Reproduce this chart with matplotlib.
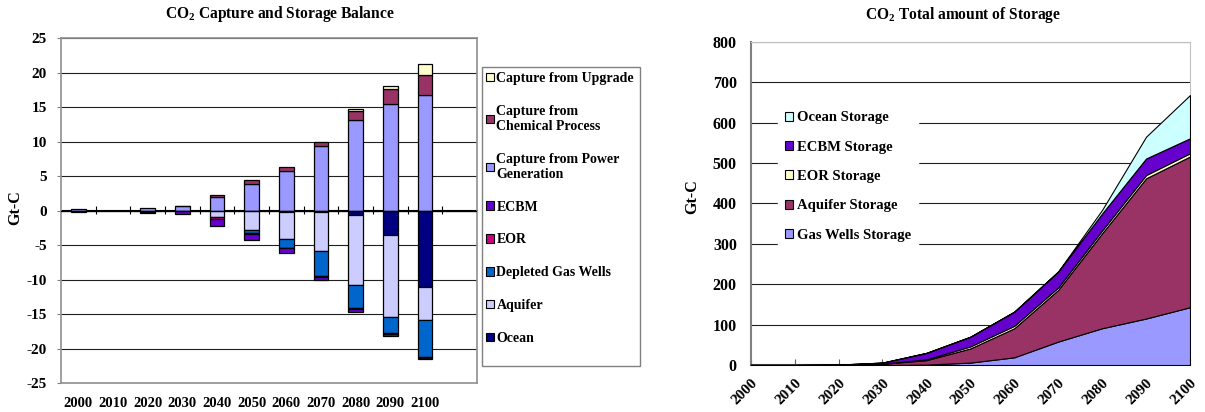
import matplotlib
matplotlib.use('Agg')
import matplotlib.pyplot as plt
import numpy as np
from matplotlib.patches import Patch, Rectangle

plt.rcParams['font.family'] = ['Liberation Serif', 'DejaVu Serif']
plt.rcParams['font.weight'] = 'bold'
plt.rcParams['mathtext.fontset'] = 'custom'
plt.rcParams['mathtext.rm'] = 'Liberation Serif:bold'
plt.rcParams['mathtext.it'] = 'Liberation Serif:bold:italic'
plt.rcParams['mathtext.bf'] = 'Liberation Serif:bold'

# ---------------- data ----------------
years = ['2000', '2010', '2020', '2030', '2040', '2050', '2060', '2070', '2080', '2090', '2100']

# Left chart: capture (positive) and storage (negative), Gt-C
cap_power = [0.15, 0.0, 0.35, 0.6, 2.0, 3.85, 5.7, 9.3, 13.1, 15.5, 16.8]
cap_chem = [0.0, 0.0, 0.0, 0.05, 0.2, 0.5, 0.55, 0.7, 1.3, 2.1, 2.8]
cap_upgrade = [0.0, 0.0, 0.0, 0.0, 0.0, 0.0, 0.0, 0.0, 0.3, 0.5, 1.6]
st_ocean = [0.0, 0.0, 0.0, 0.0, 0.0, -0.1, -0.2, -0.2, -0.65, -3.6, -11.1]
st_aquifer = [-0.15, 0.0, -0.25, -0.1, -0.9, -2.75, -3.9, -5.7, -10.15, -11.9, -4.75]
st_gas = [0.0, 0.0, 0.0, 0.0, 0.0, -0.4, -1.3, -3.6, -3.4, -2.3, -5.45]
st_eor = [0.0, 0.0, 0.0, 0.0, -0.4, -0.15, -0.1, -0.1, -0.1, -0.05, -0.05]
st_ecbm = [0.0, 0.0, -0.1, -0.4, -1.0, -0.9, -0.7, -0.5, -0.45, -0.35, -0.1]

# Right chart: cumulative storage by type, Gt-C
year_num = [2000, 2010, 2020, 2030, 2040, 2050, 2060, 2070, 2080, 2090, 2100]
gas_wells_storage = [0, 0, 0, 0, 1, 6, 19, 58, 91, 115, 143]
aquifer_storage = [0, 0, 0.5, 3, 11, 35, 72, 128, 235, 347, 373]
eor_storage = [0, 0, 0, 0.5, 2, 5, 6, 6, 7, 8, 8]
ecbm_storage = [0, 0, 0.5, 2.5, 16, 24, 35, 39, 42, 41, 37]
ocean_storage = [0, 0, 0, 0, 0, 0, 0, 1, 9, 54, 107]

# ---------------- figure ----------------
W, H = 1205, 412
fig = plt.figure(figsize=(W / 100, H / 100), dpi=100)
fig.patch.set_facecolor('white')

# ======== Left chart ========
axL = fig.add_axes([61 / W, 1 - 383 / H, (477 - 61) / W, (383 - 38) / H])
x = np.arange(len(years))
bw = 0.42

pos_series = [
    ('Capture from Power\nGeneration', cap_power, '#9999FF'),
    ('Capture from\nChemical Process', cap_chem, '#993366'),
    ('Capture from Upgrade', cap_upgrade, '#FFFFCC'),
]
neg_series = [
    ('Ocean', st_ocean, '#000080'),
    ('Aquifer', st_aquifer, '#CCCCFF'),
    ('Depleted Gas Wells', st_gas, '#0066CC'),
    ('EOR', st_eor, '#CC0080'),
    ('ECBM', st_ecbm, '#6600CC'),
]

handles = {}
for group in (pos_series, neg_series):
    bottom = np.zeros(len(years))
    for name, vals, col in group:
        v = np.array(vals, dtype=float)
        m = v != 0
        axL.bar(x[m], v[m], bw, bottom=bottom[m], color=col,
                edgecolor='black', linewidth=0.9, zorder=3)
        bottom = bottom + v
        handles[name] = Patch(facecolor=col, edgecolor='black', linewidth=0.8)

axL.set_xlim(-0.5, len(years) + 0.5)
axL.set_ylim(-25, 25)
axL.set_yticks(np.arange(-25, 26, 5))
axL.set_yticklabels([str(v) for v in range(-25, 26, 5)], fontsize=11, fontweight='bold')
axL.set_xticks(x)
axL.set_xticklabels(years, fontsize=10.5, fontweight='bold')
axL.tick_params(axis='x', length=0, pad=10)
axL.tick_params(axis='y', length=3, color='#808080', pad=7)
axL.yaxis.grid(True, color='#202020', linewidth=0.8, zorder=0)
for s in axL.spines.values():
    s.set_color('#909090')
    s.set_linewidth(1.2)

# category axis at zero with tick marks between categories
sec = axL.secondary_xaxis(0.5)
sec.set_xticks(np.arange(len(years)) + 0.5)
sec.set_xticklabels([])
sec.tick_params(axis='x', direction='inout', length=6, width=0.8, color='black')
sec.spines['bottom'].set_color('black')
sec.spines['bottom'].set_linewidth(0.9)
axL.axhline(0, color='black', linewidth=0.9, zorder=4)

fig.text(280 / W, 1 - 14 / H, r'CO$_2$ Capture and Storage Balance',
         ha='center', va='center', fontsize=11.2, fontweight='bold')
fig.text(15 / W, 1 - 208 / H, 'Gt-C', rotation=90, ha='center', va='center',
         fontsize=11.5, fontweight='bold')

leg_order = ['Capture from Upgrade', 'Capture from\nChemical Process',
             'Capture from Power\nGeneration', 'ECBM', 'EOR',
             'Depleted Gas Wells', 'Aquifer', 'Ocean']
# legend frame box
fig.add_artist(Rectangle((482 / W, 1 - 366 / H), (640 - 482) / W, (366 - 67) / H,
                         transform=fig.transFigure, facecolor='white',
                         edgecolor='#808080', linewidth=1.0, zorder=1))
legL = fig.legend([handles[k] for k in leg_order], leg_order,
                  loc='upper left', bbox_to_anchor=(486 / W, 1 - 72 / H),
                  bbox_transform=fig.transFigure,
                  prop={'family': 'Liberation Serif', 'weight': 'bold', 'size': 10},
                  frameon=False, handlelength=0.55, handleheight=0.55,
                  handletextpad=0.2, labelspacing=1.43, borderpad=0, borderaxespad=0)
legL.set_zorder(2)

# ======== Right chart ========
axR = fig.add_axes([750.7 / W, 1 - 365 / H, (1190 - 750.7) / W, (365 - 41.7) / H])
r_series = [
    ('Gas Wells Storage', gas_wells_storage, '#9999FF'),
    ('Aquifer Storage', aquifer_storage, '#993366'),
    ('EOR Storage', eor_storage, '#FFFFCC'),
    ('ECBM Storage', ecbm_storage, '#6600CC'),
    ('Ocean Storage', ocean_storage, '#CCFFFF'),
]
axR.stackplot(year_num, *[s[1] for s in r_series], colors=[s[2] for s in r_series],
              edgecolor='black', linewidth=0.8, zorder=3)
axR.set_xlim(2000, 2100)
axR.set_ylim(0, 800)
axR.set_yticks(np.arange(0, 801, 100))
axR.set_yticklabels([str(v) for v in range(0, 801, 100)], fontsize=11.5, fontweight='bold')
axR.set_xticks(year_num)
axR.set_xticklabels([str(y) for y in year_num], rotation=45, ha='right',
                    rotation_mode='anchor', fontsize=11, fontweight='bold')
axR.tick_params(axis='x', direction='in', length=4, color='#606060', pad=8)
axR.tick_params(axis='y', length=0, pad=10)
axR.yaxis.grid(True, color='#202020', linewidth=0.8, zorder=0)
axR.spines['left'].set_color('#808080')
axR.spines['bottom'].set_color('#606060')
axR.spines['left'].set_linewidth(1.5)
axR.spines['bottom'].set_linewidth(1.5)
axR.spines['top'].set_color('#C0C0C0')
axR.spines['right'].set_color('#C0C0C0')

fig.text(963 / W, 1 - 15 / H, r'CO$_2$ Total amount of Storage',
         ha='center', va='center', fontsize=11.2, fontweight='bold')
fig.text(692 / W, 1 - 197 / H, 'Gt-C', rotation=90, ha='center', va='center',
         fontsize=11.5, fontweight='bold')

r_handles = [Patch(facecolor=s[2], edgecolor='black', linewidth=0.8) for s in r_series][::-1]
r_labels = [s[0] for s in r_series][::-1]
legR = axR.legend(r_handles, r_labels, loc='upper left',
                  bbox_to_anchor=(778 / W, 1 - 104 / H), bbox_transform=fig.transFigure,
                  prop={'family': 'Liberation Serif', 'weight': 'bold', 'size': 10.5},
                  frameon=True, fancybox=False, facecolor='white', edgecolor='white',
                  framealpha=1.0, handlelength=0.55, handleheight=0.55,
                  handletextpad=0.25, labelspacing=1.12, borderpad=0.5, borderaxespad=0)
legR.set_zorder(5)

fig.savefig('out.png', dpi=100, facecolor='white')
